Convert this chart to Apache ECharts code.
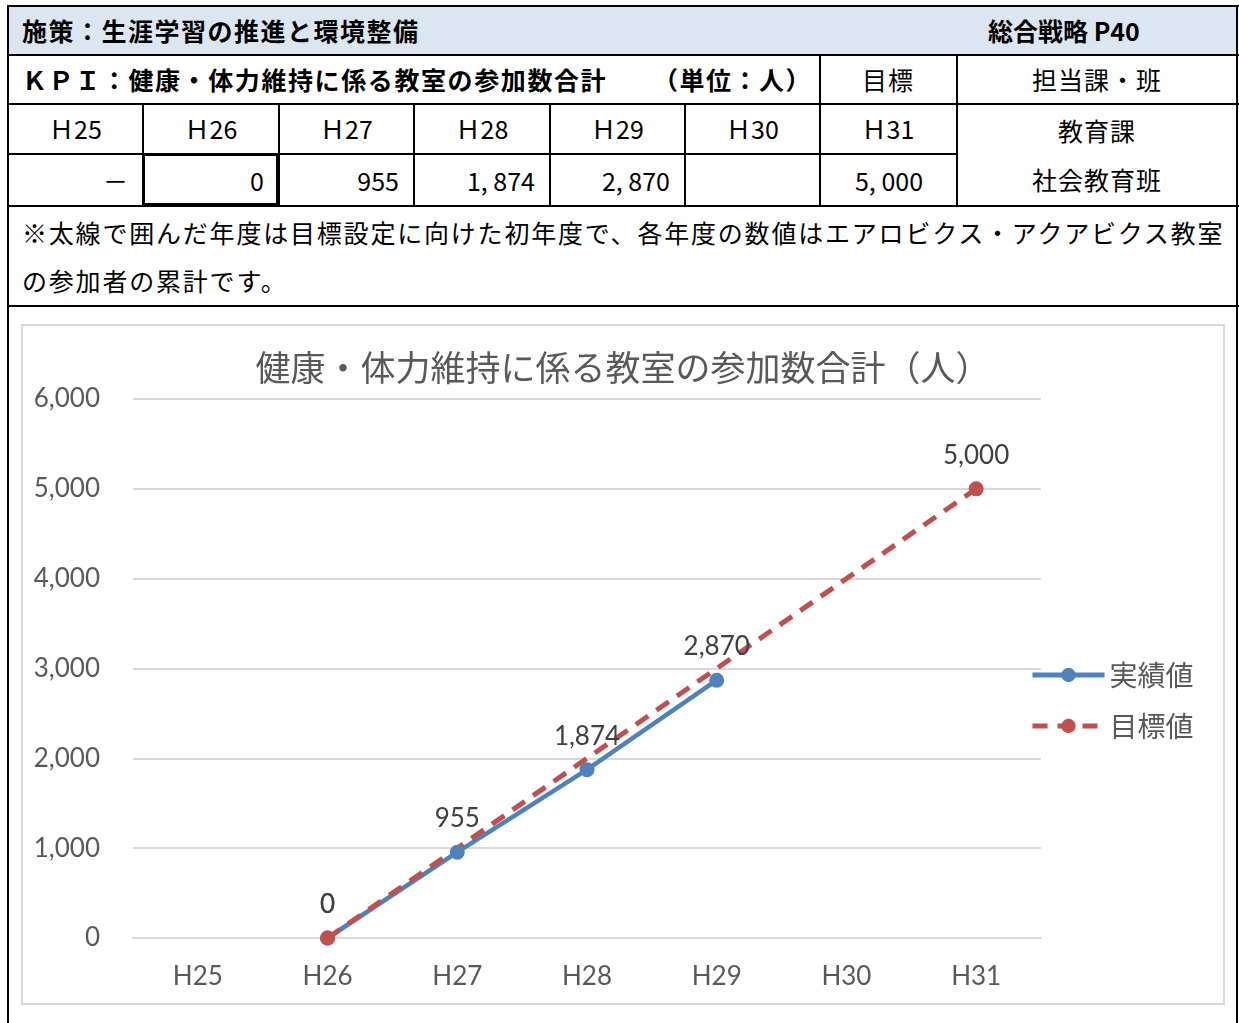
<!DOCTYPE html>
<html><head><meta charset="utf-8">
<script src="https://cdn.jsdelivr.net/npm/echarts@6/dist/echarts.min.js"></script>
<style>
html,body{margin:0;padding:0;background:#fff;width:1239px;height:1023px;overflow:hidden;}
.ln{position:absolute;background:#000;}
.t{position:absolute;font-family:"Noto Sans CJK JP",sans-serif;color:#000;font-size:25px;white-space:nowrap;line-height:1;}
.b{font-weight:bold;}
</style></head><body>
<div id="page"></div>
<div id="chartBox" style="position:absolute;left:21px;top:324px;width:1200px;height:677px;border:2px solid #d9d9d9;">
  <div id="chart" style="width:1200px;height:677px;"></div>
</div>
<script>
// ---- data ----
const tableYears = ["Ｈ25","Ｈ26","Ｈ27","Ｈ28","Ｈ29","Ｈ30"];
const tableValues = ["－","0","955","1, 874","2, 870",""];
const targetYear = "Ｈ31";
const targetValueText = "5, 000";
const categories = ["H25","H26","H27","H28","H29","H30","H31"];
const actualValues = [null, 0, 955, 1874, 2870, null, null];
const targetValues = [null, 0, null, null, null, null, 5000];
const yTicks = [0, 1000, 2000, 3000, 4000, 5000, 6000];
const seriesNames = ["実績値","目標値"];
const chartTitle = "健康・体力維持に係る教室の参加数合計（人）";

// ---- table drawing ----
const page = document.getElementById('page');
function line(x,y,w,h){const d=document.createElement('div');d.className='ln';d.style.left=x+'px';d.style.top=y+'px';d.style.width=w+'px';d.style.height=h+'px';page.appendChild(d);}
function text(s,x,y,opts={}){const d=document.createElement('div');d.className='t'+(opts.bold?' b':'');d.textContent=s;
  d.style.top=(y-13)+'px';
  if(opts.align==='center'){d.style.left=(x-200)+'px';d.style.width='400px';d.style.textAlign='center';}
  else if(opts.align==='right'){d.style.left=(x-400)+'px';d.style.width='400px';d.style.textAlign='right';}
  else d.style.left=x+'px';
  if(opts.ls) d.style.letterSpacing=opts.ls+'px';
  page.appendChild(d);}
// header bg
const bg=document.createElement('div');bg.style.cssText='position:absolute;left:8px;top:6px;width:1230px;height:49px;background:#dce6f1;';page.appendChild(bg);
const cols=[8,143,279,414,550,685,820,957,1238];
line(8,5,1231,2);line(8,54,1231,2);line(8,103,1231,2);line(8,153,949,2);line(8,205,1231,2);line(8,305,1231,2);
line(7,5,2,1018);line(1236,5,2,1018);
line(819,54,2,152);line(956,54,2,152);
[143,279,414,550,685].forEach(x=>line(x-1,103,2,103));
// thick box
const tb=document.createElement('div');tb.style.cssText='position:absolute;left:142px;top:153px;width:131px;height:47px;border:3px solid #000;';page.appendChild(tb);

text("施策：生涯学習の推進と環境整備",22,31,{bold:true,ls:1.5});
text("総合戦略 P40",988,31,{bold:true});
text("ＫＰＩ：健康・体力維持に係る教室の参加数合計",22,80,{bold:true,ls:1.6});
text("（単位：人）",653,80,{bold:true,ls:1.5});
text("目標",888,80,{align:'center',ls:1});
text("担当課・班",1097,80,{align:'center',ls:1});
tableYears.forEach((s,i)=>text(s,(cols[i]+cols[i+1])/2,129,{align:'center'}));
text(targetYear,888,129,{align:'center'});
tableValues.forEach((s,i)=>{ if(s) text(s,cols[i+1]-15,181,{align:'right'}); });
text(targetValueText,889,181,{align:'center'});
text("教育課",1097,131,{align:'center',ls:1});
text("社会教育班",1097,180,{align:'center',ls:1});
text("※太線で囲んだ年度は目標設定に向けた初年度で、各年度の数値はエアロビクス・アクアビクス教室",22,233,{ls:1.8});
text("の参加者の累計です。",22,281,{ls:1.8});

// ---- chart ----
const chart = echarts.init(document.getElementById('chart'));
const numFont = "Lato, 'Noto Sans CJK JP', sans-serif";
chart.setOption({
  animation:false,
  backgroundColor:'#fff',
  title:{text:chartTitle,left:'center',top:19,textStyle:{fontFamily:"'Noto Sans CJK JP',sans-serif",fontSize:35,fontWeight:'normal',color:'#595959'}},
  legend:{orient:'vertical',left:1002,top:330,itemWidth:72,itemHeight:18,itemGap:23,
    lineStyle:{width:5},
    textStyle:{fontFamily:"'Noto Sans CJK JP',sans-serif",fontSize:28,color:'#595959'},data:seriesNames},
  grid:{left:110,top:73,width:908,height:539,containLabel:false},
  xAxis:{type:'category',data:categories,boundaryGap:true,
    axisLine:{lineStyle:{color:'#d9d9d9',width:2}},axisTick:{show:false},
    axisLabel:{fontFamily:numFont,fontSize:26,color:'#595959',margin:26}},
  yAxis:{type:'value',min:yTicks[0],max:yTicks[yTicks.length-1],interval:1000,
    axisLine:{show:false},axisTick:{show:false},
    splitLine:{lineStyle:{color:'#d9d9d9',width:2}},
    axisLabel:{fontFamily:numFont,fontSize:26,color:'#595959',margin:33,formatter:v=>v.toLocaleString('en-US')}},
  series:[
    {name:seriesNames[0],type:'line',data:actualValues,symbol:'circle',symbolSize:15,
      lineStyle:{color:'#4f81bd',width:4.5},itemStyle:{color:'#4f81bd'},
      label:{show:true,position:'top',distance:13,fontFamily:numFont,fontSize:26,color:'#404040',formatter:p=>p.value.toLocaleString('en-US')}},
    {name:seriesNames[1],type:'line',data:targetValues,connectNulls:true,symbol:'circle',symbolSize:15,
      lineStyle:{color:'#c0504d',width:5,type:[15,10]},itemStyle:{color:'#c0504d'},
      label:{show:true,position:'top',distance:13,fontFamily:numFont,fontSize:26,color:'#404040',formatter:p=>p.value.toLocaleString('en-US')}}
  ]
});
</script>
</body></html>
